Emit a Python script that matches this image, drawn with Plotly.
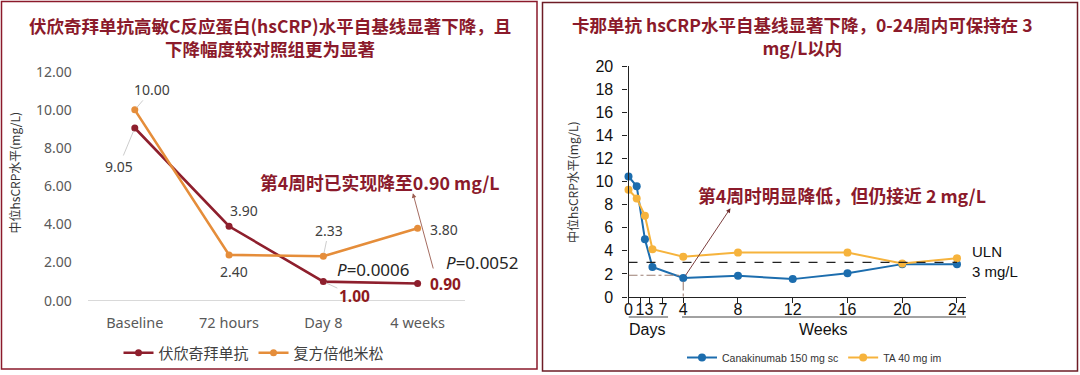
import plotly.graph_objects as go

W, H = 1080, 375

# ---------------- data: left chart ----------------
left_categories = ["Baseline", "72 hours", "Day 8", "4 weeks"]
left_series_names = ["伏欣奇拜单抗", "复方倍他米松"]
vox_values = [9.05, 3.90, 1.00, 0.90]
beta_values = [10.00, 2.40, 2.33, 3.80]
left_y_ticks = [0, 2, 4, 6, 8, 10, 12]
p_values = ["0.0006", "0.0052"]

# ---------------- data: right chart ----------------
right_series_names = ["Canakinumab 150 mg sc", "TA 40 mg im"]
cana_x = [0, 0.6, 1.2, 1.75, 4, 8, 12, 16, 20, 24]
cana_values = [10.45, 9.6, 5.0, 2.6, 1.65, 1.85, 1.55, 2.05, 2.85, 2.85]
ta_x = [0, 0.6, 1.2, 1.75, 4, 8, 16, 20, 24]
ta_values = [9.3, 8.55, 7.05, 4.15, 3.5, 3.85, 3.85, 2.9, 3.35]
right_x_tickvals = [0, 0.84, 1.5, 2.52, 4, 8, 12, 16, 20, 24]
right_x_ticktext = ["0", "1", "3", "7", "4", "8", "12", "16", "20", "24"]
right_y_ticks = list(range(0, 21, 2))
uln_value = 3

DARK_RED = "#8B1A2B"
VOX_COLOR = "#8E1F2D"
BETA_COLOR = "#E58D3A"
CANA_COLOR = "#1C6DAE"
TA_COLOR = "#F6B33C"
CJK = "Noto Sans CJK SC"
LAT = "Noto Sans, Noto Sans CJK SC"
ARIAL = "Liberation Sans, Arial, Noto Sans CJK SC"


def px(x):
    return x / W


def py(y):
    return 1 - y / H


fig = go.Figure()

# left traces
fig.add_trace(go.Scatter(
    x=left_categories, y=vox_values, name=left_series_names[0], mode="lines+markers",
    line=dict(color=VOX_COLOR, width=2.6), marker=dict(size=7, color=VOX_COLOR),
    xaxis="x", yaxis="y", legend="legend"))
fig.add_trace(go.Scatter(
    x=left_categories, y=beta_values, name=left_series_names[1], mode="lines+markers",
    line=dict(color=BETA_COLOR, width=2.6), marker=dict(size=7, color=BETA_COLOR),
    xaxis="x", yaxis="y", legend="legend"))

# right traces
fig.add_trace(go.Scatter(
    x=cana_x, y=cana_values, name=right_series_names[0], mode="lines+markers",
    line=dict(color=CANA_COLOR, width=2), marker=dict(size=8, color=CANA_COLOR),
    xaxis="x2", yaxis="y2", legend="legend2", cliponaxis=False))
fig.add_trace(go.Scatter(
    x=ta_x, y=ta_values, name=right_series_names[1], mode="lines+markers",
    line=dict(color=TA_COLOR, width=2), marker=dict(size=8, color=TA_COLOR),
    xaxis="x2", yaxis="y2", legend="legend2", cliponaxis=False))

# ---- axes ----
fig.update_layout(
    xaxis=dict(domain=[px(87.65), px(464.75)], range=[-0.5, 3.5], type="category",
               showline=False, showgrid=False, zeroline=False, automargin=False,
               ticks="outside", ticklen=9, tickcolor="rgba(0,0,0,0)", tickangle=0,
               tickfont=dict(family=LAT, size=14.5, color="#595959"), anchor="y"),
    yaxis=dict(domain=[py(300.7), py(71.7)], range=[0, 12], tickvals=left_y_ticks,
               tickformat=".2f", showline=False, showgrid=False, automargin=False,
               zeroline=True, zerolinecolor="#D9D9D9", zerolinewidth=1.2,
               ticks="outside", ticklen=12, tickcolor="rgba(0,0,0,0)",
               tickfont=dict(family=LAT, size=14, color="#595959"), anchor="x"),
    xaxis2=dict(domain=[px(628.5), px(966)], range=[0, 24.66],
                tickvals=right_x_tickvals, ticktext=right_x_ticktext, tickangle=0,
                showline=True, linecolor="#222", linewidth=1.2, showgrid=False, zeroline=False,
                automargin=False, ticklabelstandoff=-7,
                ticks="outside", ticklen=5, tickcolor="#222", tickwidth=1,
                tickfont=dict(family=ARIAL, size=16, color="#111"), anchor="y2"),
    yaxis2=dict(domain=[py(297), py(66.3)], range=[0, 20], tickvals=right_y_ticks,
                showline=True, linecolor="#222", linewidth=1.2, showgrid=False, zeroline=False,
                automargin=False,
                ticks="outside", ticklen=5, tickcolor="#222", tickwidth=1,
                ticklabelstandoff=6,
                tickfont=dict(family=ARIAL, size=16, color="#111"), anchor="x2"),
)

ann = []


def text_ann(text, x, y, font, xanchor="center", **kw):
    d = dict(text=text, x=x, y=y, xref="paper", yref="paper", showarrow=False,
             xanchor=xanchor, yanchor="middle", font=font)
    d.update(kw)
    return d


# titles (two lines each)
ann.append(text_ann("<b>伏欣奇拜单抗高敏C反应蛋白(hsCRP)水平自基线显著下降，且<br>下降幅度较对照组更为显著</b>",
                    px(270), py(37.5), dict(family=CJK, size=17.5, color=DARK_RED), align="center"))
ann.append(text_ann("<b>卡那单抗 hsCRP水平自基线显著下降，0-24周内可保持在 3<br>mg/L以内</b>",
                    px(802), py(36.5), dict(family=CJK, size=17.5, color=DARK_RED), align="center"))

# y axis titles
ann.append(text_ann("中位hsCRP水平(mg/L)", px(14), py(172.5),
                    dict(family=CJK, size=12, color="#333"), textangle=-90))
ann.append(text_ann("中位hsCRP水平(mg/L)", px(572), py(182),
                    dict(family=CJK, size=12, color="#333"), textangle=-90))

# left data labels: (category index, value, dx, dy, leader, bold)
label_specs = [
    (0, beta_values[0], 17.5, -20.5, True, False),
    (0, vox_values[0], -16, 38.5, True, False),
    (1, vox_values[1], 14.7, -15.3, False, False),
    (1, beta_values[1], 5, 16.8, False, False),
    (2, beta_values[2], 5.4, -26.2, True, False),
    (3, beta_values[3], 26, 1.1, False, False),
    (2, vox_values[2], 31, 14.4, True, True),
    (3, vox_values[3], 27.4, 0.8, False, True),
]
for idx, val, dx, dy, leader, bold in label_specs:
    txt = f"{val:.2f}"
    font = dict(family=LAT, size=14, color="#404040")
    if bold:
        txt = "<b>%s</b>" % txt
        font = dict(family=LAT, size=15.5, color="#8E1A1E")
    if leader:
        ann.append(dict(text=txt, x=left_categories[idx], y=val, xref="x", yref="y",
                        showarrow=True, ax=dx, ay=dy, arrowhead=0, arrowwidth=0.8,
                        arrowcolor="#BFBFBF", standoff=3, font=font))
    else:
        ann.append(dict(text=txt, x=left_categories[idx], y=val, xref="x", yref="y",
                        showarrow=False, xshift=dx, yshift=-dy, font=font))

# P values
ann.append(text_ann("<i>P</i>=" + p_values[0], px(374), py(269.3),
                    dict(family=LAT, size=17, color="#262626")))
ann.append(text_ann("<i>P</i>=" + p_values[1], px(482), py(262.7),
                    dict(family=LAT, size=17, color="#262626")))

# left callout
ann.append(text_ann("<b>第4周时已实现降至0.90 mg/L</b>", px(380), py(181.7),
                    dict(family=CJK, size=17.8, color=DARK_RED)))
ann.append(dict(text="", x=2.95, y=5.63, ax=3.17, ay=1.61, xref="x", yref="y", axref="x", ayref="y",
                showarrow=True, arrowhead=2, arrowsize=1, arrowwidth=0.9, arrowcolor="#9A5A4E"))

# right callout
ann.append(text_ann("<b>第4周时明显降低，但仍接近 2 mg/L</b>", px(842), py(195),
                    dict(family=CJK, size=17.8, color=DARK_RED)))
ann.append(dict(text="", x=7.45, y=7.7, ax=4.1, ay=1.75, xref="x2", yref="y2", axref="x2", ayref="y2",
                showarrow=True, arrowhead=2, arrowsize=1, arrowwidth=0.9, arrowcolor="#6E2A2A"))

# ULN text
ann.append(text_ann("ULN<br>3 mg/L", px(970), py(261.5), dict(family=ARIAL, size=15, color="#111"),
                    xanchor="left", align="left"))

# Days / Weeks
for txt, xv in [("Days", 1.35), ("Weeks", 14.25)]:
    ann.append(dict(text=txt, x=xv, y=py(329), xref="x2", yref="paper", showarrow=False,
                    xanchor="center", yanchor="middle",
                    font=dict(family=ARIAL, size=16, color="#111")))

shapes = [
    # panel borders
    dict(type="rect", xref="paper", yref="paper", x0=px(1.5), x1=px(537), y0=py(369), y1=py(1.5),
         line=dict(color=DARK_RED, width=1.5)),
    dict(type="rect", xref="paper", yref="paper", x0=px(542.5), x1=px(1077.5), y0=py(371), y1=py(2.5),
         line=dict(color="#6E1C26", width=1.5)),
    # ULN line
    dict(type="line", xref="x2", yref="y2", x0=0, x1=24, y0=uln_value, y1=uln_value,
         line=dict(color="#222", width=1.1, dash="dash")),
    # dash-dot guides
    dict(type="line", xref="x2", yref="y2", x0=0, x1=3.7, y0=1.88, y1=1.88,
         line=dict(color="#9C7F74", width=1.1, dash="dashdot")),
    dict(type="line", xref="x2", yref="y2", x0=4, x1=4, y0=1.35, y1=-0.25,
         line=dict(color="#9C7F74", width=1.1, dash="dashdot")),
    # Days / Weeks underlines
    dict(type="line", xref="x2", yref="paper", x0=0, x1=2.89, y0=py(317), y1=py(317),
         line=dict(color="#444", width=1)),
    dict(type="line", xref="x2", yref="paper", x0=3.91, x1=24.66, y0=py(317), y1=py(317),
         line=dict(color="#444", width=1)),
]

fig.update_layout(
    width=W, height=H, margin=dict(l=0, r=0, t=0, b=0, autoexpand=False),
    paper_bgcolor="white", plot_bgcolor="white",
    annotations=ann, shapes=shapes,
    legend=dict(orientation="h", x=px(254), xanchor="center", y=py(353), yanchor="middle",
                font=dict(family=CJK, size=15, color="#404040"), bgcolor="rgba(0,0,0,0)",
                itemwidth=30),
    legend2=dict(orientation="h", x=px(814.5), xanchor="center", y=py(357.5), yanchor="middle",
                 font=dict(family=ARIAL, size=10.5, color="#333"), bgcolor="rgba(0,0,0,0)",
                 itemwidth=30),
)

fig.write_html("out.html", config={"displayModeBar": False},
               post_script="document.body.style.margin='0px';document.body.style.overflow='hidden';")
